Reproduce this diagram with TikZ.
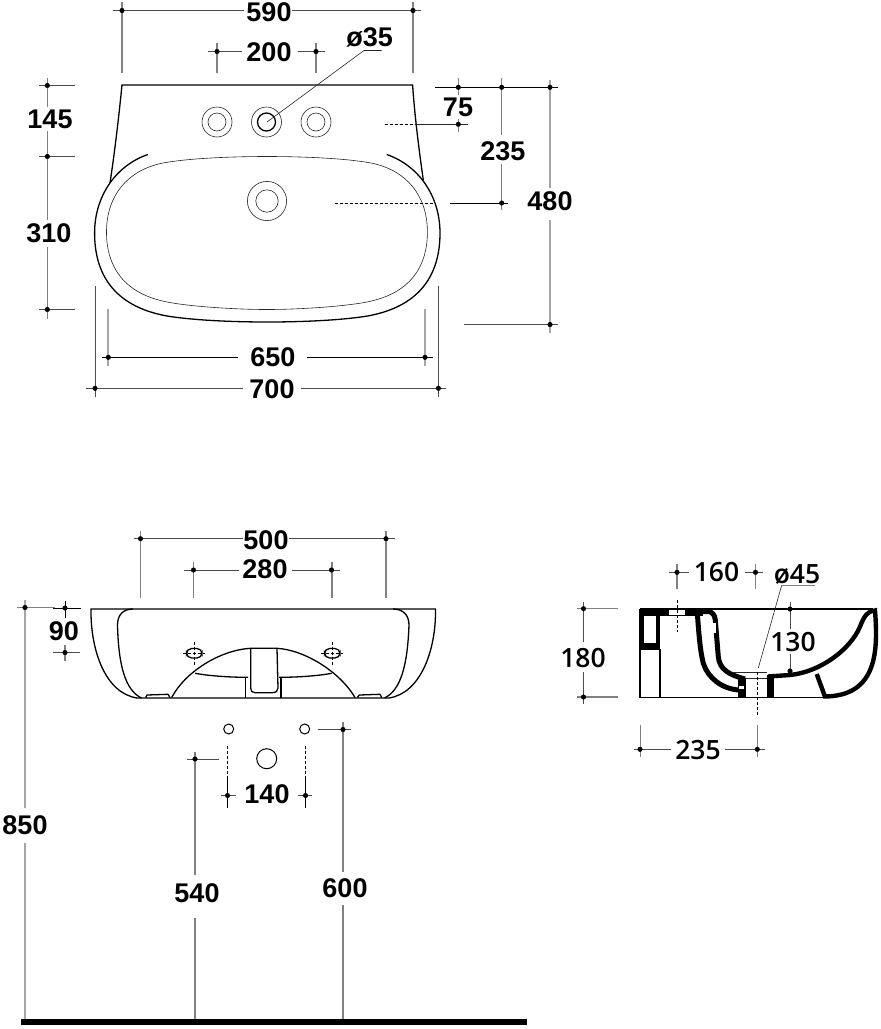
\documentclass[tikz,border=0pt]{standalone}
\usepackage{fontspec}
\setmainfont{Liberation Sans}
\newfontfamily\sidefont{Open Sans Semibold}
\usetikzlibrary{shapes,backgrounds}

\tikzset{
	dimtext/.style={font=\fontsize{27}{27}\bfseries\selectfont, inner sep=0pt},
	sidetext/.style={font=\fontsize{26.5}{27}\sidefont, inner sep=0pt},
	dimline/.style={black!70, line width=0.9pt},
	extline/.style={black!50, line width=1.1pt},
	extthick/.style={black!35, line width=1.6pt},
	dashline/.style={black, line width=0.8pt, dash pattern=on 3pt off 2pt},
	outline/.style={black, line width=1.3pt},
	thinline/.style={black!85, line width=0.6pt},
	wallline/.style={black, line width=5pt}
}

\begin{document}
\begin{tikzpicture}[x=1pt, y=-1pt]

	\useasboundingbox (0, 0) rectangle (881, 1029);

	\draw[outline] (110, 183) .. controls (115, 150) and (119, 115) .. (122, 85) -- (412.6, 85) .. controls (414.6, 115) and (419, 150) .. (423.3, 180);
	\draw[outline] (147.9, 154.5) .. controls (117, 165) and (94.6, 195) .. (94.6, 233) .. controls (94.6, 272) and (112, 306) .. (167, 316) .. controls (195, 320.5) and (235, 322) .. (267.3, 322) .. controls (299.6, 322) and (339.6, 320.5) .. (367.6, 316) .. controls (422.6, 306) and (440, 272) .. (440, 233) .. controls (440, 195) and (417.6, 165) .. (386.7, 154.5);
	\draw[thinline] (267, 156.5) .. controls (235, 156.5) and (190, 158) .. (163, 163) .. controls (128, 170) and (106.5, 195) .. (106.5, 232) .. controls (106.5, 265) and (122, 293) .. (167, 302) .. controls (190, 306.5) and (235, 309.5) .. (267, 309.5) .. controls (299, 309.5) and (344, 306.5) .. (367, 302) .. controls (412, 293) and (427.4, 265) .. (427.4, 232) .. controls (427.4, 195) and (406, 170) .. (371, 163) .. controls (344, 158) and (299, 156.5) .. (267, 156.5);

	\foreach \holex in {217, 266.5, 316} {
		\draw[thinline] (\holex, 122) circle (15pt);
	}
	\draw[thinline] (217, 122) circle (9pt);
	\draw[outline] (266.5, 122) circle (9pt);
	\draw[thinline] (316, 122) circle (9pt);
	\draw[thinline] (267, 201) circle (19.6pt);
	\draw[thinline] (267, 201) circle (11.2pt);

	\draw[extline] (122, 2) -- (122, 73);
	\draw[extline] (413, 2) -- (413, 73);
	\draw[dimline] (112.8, 10.5) -- (244, 10.5);
	\draw[dimline] (292, 10.5) -- (421.4, 10.5);
	\filldraw[black] (122, 10.5) circle (2.3pt);
	\filldraw[black] (413, 10.5) circle (2.3pt);
	\node[dimtext] (top590) at (269, 12) {590};

	\draw[extline] (217, 43) -- (217, 73);
	\draw[extline] (316, 43) -- (316, 73);
	\draw[dimline] (207.8, 51.5) -- (242, 51.5);
	\draw[dimline] (297.6, 51.5) -- (324.6, 51.5);
	\filldraw[black] (217, 51.5) circle (2.3pt);
	\filldraw[black] (316, 51.5) circle (2.3pt);
	\node[dimtext] (top200) at (269, 52) {200};

	\draw[thinline] (381.5, 50.5) -- (364, 50.5) -- (267, 122);
	\node[dimtext] (top35) at (369.7, 37) {ø35};

	\draw[extline] (47.3, 78) -- (47.3, 107);
	\draw[extline] (47.3, 131) -- (47.3, 220);
	\draw[extline] (47.3, 247) -- (47.3, 319);
	\draw[dimline] (38.8, 85.5) -- (75, 85.5);
	\draw[dimline] (38.8, 156.5) -- (75, 156.5);
	\draw[dimline] (38.8, 309.5) -- (75, 309.5);
	\filldraw[black] (47.3, 85.5) circle (2.3pt);
	\filldraw[black] (47.3, 156.5) circle (2.3pt);
	\filldraw[black] (47.3, 309.5) circle (2.3pt);
	\node[dimtext] (top145) at (50, 119.5) {145};
	\node[dimtext] (top310) at (49, 233) {310};

	\draw[black, line width=0.9pt] (434.8, 87.3) -- (558, 87.3);
	\draw[extline] (458.3, 78) -- (458.3, 95);
	\draw[extline] (458.3, 119) -- (458.3, 132);
	\draw[dashline] (384.5, 124.3) -- (415.9, 124.3);
	\draw[thinline] (415.9, 124.3) -- (467.7, 124.3);
	\filldraw[black] (458.3, 87.3) circle (2.3pt);
	\filldraw[black] (458.3, 124.3) circle (2.3pt);
	\node[dimtext] (top75) at (458, 107.3) {75};

	\draw[extline] (501.7, 78) -- (501.7, 135);
	\draw[extline] (501.7, 164) -- (501.7, 210);
	\draw[dashline] (334.6, 203) -- (436, 203);
	\draw[black, line width=0.9pt] (450, 203) -- (508.3, 203);
	\filldraw[black] (501.7, 87.3) circle (2.3pt);
	\filldraw[black] (501.7, 203) circle (2.3pt);
	\node[dimtext] (top235) at (502.8, 151.5) {235};

	\draw[extthick] (550, 80) -- (550, 188);
	\draw[extthick] (550, 220) -- (550, 333);
	\draw[dimline] (464, 324.5) -- (558, 324.5);
	\filldraw[black] (550, 87.3) circle (2.3pt);
	\filldraw[black] (550, 324.5) circle (2.3pt);
	\node[dimtext] (top480) at (550, 201.5) {480};

	\draw[extthick] (108, 309) -- (108, 366);
	\draw[extthick] (425, 309) -- (425, 366);
	\draw[black, line width=0.9pt] (101.7, 357.3) -- (238.4, 357.3);
	\draw[black, line width=0.9pt] (306.8, 357.3) -- (433.3, 357.3);
	\filldraw[black] (108.3, 357.3) circle (2.3pt);
	\filldraw[black] (425, 357.3) circle (2.3pt);
	\node[dimtext] (top650) at (272.8, 357.5) {650};

	\draw[dimline] (95, 286) -- (95, 397);
	\draw[dimline] (438.4, 286) -- (438.4, 397);
	\draw[dimline] (85.8, 388.3) -- (243, 388.3);
	\draw[dimline] (301.3, 388.3) -- (445.5, 388.3);
	\filldraw[black] (95, 388.3) circle (2.3pt);
	\filldraw[black] (438.4, 388.3) circle (2.3pt);
	\node[dimtext] (top700) at (272, 389.5) {700};

	\draw[outline] (137, 698) .. controls (105, 693) and (91, 650) .. (91, 612) -- (91, 609) -- (435.5, 609) -- (435.5, 612) .. controls (435.5, 650) and (421, 693) .. (389, 698) -- cycle;
	\draw[outline] (141.5, 698) .. controls (125, 690) and (118.5, 665) .. (117.5, 625) .. controls (117.5, 615) and (123, 609) .. (133, 609);
	\draw[outline] (384.5, 698) .. controls (401, 690) and (407.5, 665) .. (409, 625) .. controls (409, 615) and (403, 609) .. (393, 609);
	\draw[outline] (171.7, 697.5) .. controls (185, 672) and (220, 650) .. (250.7, 648.3) -- (277, 648.3) .. controls (305, 650) and (340, 672) .. (355, 697.5);
	\draw[outline] (195, 673.3) .. controls (210, 676) and (230, 677.3) .. (248, 677.3);
	\draw[outline] (279, 677.3) .. controls (297, 677.3) and (317, 676) .. (331.7, 673.3);
	\draw[outline] (250.7, 648.3) -- (250.7, 688) .. controls (250.7, 691) and (252, 692.7) .. (255, 692.7) -- (272, 692.7) .. controls (276, 692.7) and (278, 691) .. (278, 688) -- (277, 648.3);
	\draw[outline] (245.7, 697.5) -- (245.7, 677.3);
	\draw[outline] (281, 697.5) -- (281, 677.3);
	\draw[outline] (145.7, 697.5) -- (147, 695) -- (168, 694.3) -- (170, 697.5);
	\draw[outline] (357.3, 697.5) -- (359.3, 695) -- (380, 694.3) -- (381.7, 697.5);
	\draw[outline, rounded corners=5pt] (186.6, 648.5) rectangle (202, 658);
	\draw[outline, rounded corners=5pt] (324.6, 648.5) rectangle (340, 658);
	\foreach \slotx in {194.3, 332.3} {
		\draw[dashline] (\slotx - 11, 653.3) -- (\slotx + 11, 653.3);
		\draw[dashline] (\slotx, 641.7) -- (\slotx, 665);
	}

	\draw[outline, line width=1pt] (228.7, 729) circle (5pt);
	\draw[outline, line width=1pt] (304.7, 729) circle (5pt);
	\draw[outline, line width=1pt] (266.7, 758.7) circle (10pt);

	\draw[extline] (140.5, 531) -- (140.5, 597.5);
	\draw[extline] (386, 531) -- (386, 597.5);
	\draw[dimline] (134, 538.7) -- (243, 538.7);
	\draw[dimline] (289, 538.7) -- (394.5, 538.7);
	\filldraw[black] (140.5, 538.7) circle (2.3pt);
	\filldraw[black] (386, 538.7) circle (2.3pt);
	\node[dimtext] (front500) at (266, 540.5) {500};

	\draw[extline] (193.5, 562) -- (193.5, 597.5);
	\draw[extline] (332, 562) -- (332, 597.5);
	\draw[dimline] (184, 570) -- (239, 570);
	\draw[dimline] (292, 570) -- (340, 570);
	\filldraw[black] (193.5, 570) circle (2.3pt);
	\filldraw[black] (331.5, 570) circle (2.3pt);
	\node[dimtext] (front280) at (265, 569) {280};

	\draw[black, line width=0.9pt] (53, 608) -- (81, 608);
	\draw[black, line width=0.9pt] (65, 601) -- (65, 618);
	\draw[dimline] (53, 652.5) -- (80, 652.5);
	\draw[extline] (65, 645) -- (65, 661);
	\filldraw[black] (65, 608) circle (2.3pt);
	\filldraw[black] (65, 652.5) circle (2.3pt);
	\node[dimtext] (front90) at (64, 631) {90};

	\draw[extthick] (25, 600) -- (25, 808);
	\draw[extthick] (25, 843) -- (25, 1022);
	\draw[extline] (17, 607.5) -- (55, 607.5);
	\filldraw[black] (25, 607.5) circle (2.3pt);
	\node[dimtext] (front850) at (25, 825) {850};

	\draw[dashline] (227.5, 746) -- (227.5, 778);
	\draw[dashline] (305.5, 746) -- (305.5, 778);
	\draw[black, line width=0.9pt] (227.5, 778) -- (227.5, 808);
	\draw[black, line width=0.9pt] (305.5, 778) -- (305.5, 808);
	\draw[dimline] (220.5, 795.5) -- (236, 795.5);
	\draw[dimline] (298, 795.5) -- (312, 795.5);
	\filldraw[black] (227.5, 795.5) circle (2.3pt);
	\filldraw[black] (305.5, 795.5) circle (2.3pt);
	\node[dimtext] (front140) at (267, 794) {140};

	\draw[dimline] (318, 729.5) -- (351, 729.5);
	\draw[extline] (343, 722) -- (343, 872);
	\draw[extline] (343, 905) -- (343, 1022);
	\filldraw[black] (343, 729.5) circle (2.3pt);
	\node[dimtext] (front600) at (345, 888.5) {600};

	\draw[dimline] (187, 759) -- (219, 759);
	\draw[extline] (195, 752) -- (195, 875);
	\draw[extline] (195, 918) -- (195, 1022);
	\filldraw[black] (195, 759) circle (2.3pt);
	\node[dimtext] (front540) at (197, 893) {540};

	\draw[black, line width=6pt] (21, 1022) -- (527, 1022);

	\draw[outline] (640, 609) -- (873, 609);
	\draw[outline] (640, 609) -- (640, 697.7) -- (825, 697.7);
	\draw[outline] (660, 649) -- (660, 697.7);
	\fill[black] (640, 608.5) rectangle (703, 615.5);
	\fill[black] (640, 608.5) rectangle (660, 649.5);
	\fill[white] (644.3, 615.7) rectangle (655.7, 643.3);
	\fill[white] (669, 610) rectangle (685, 614.7);
	\draw[wallline] (697.3, 613) .. controls (699, 635) and (700, 650) .. (703.3, 663.3) .. controls (708, 678) and (722, 689) .. (739, 690);
	\draw[wallline] (702, 611.5) -- (708, 611.5) .. controls (712, 611.5) and (715, 615) .. (715.3, 620) -- (718.3, 656.7) .. controls (719.5, 670) and (730, 675) .. (745, 679);
	\fill[white] (712.7, 623) rectangle (715.7, 633);
	\fill[black] (738.3, 678) rectangle (745.7, 698);
	\fill[white] (739, 686) rectangle (744.3, 688.7);
	\fill[black] (766.7, 675) rectangle (774, 698);
	\draw[thinline] (733.3, 672.5) -- (767, 672.5);
	\draw[thinline] (745, 678.3) -- (767, 678.3);
	\draw[thinline] (766.7, 678.3) -- (769, 675);
	\draw[wallline, line width=4.4pt] (768, 676.5) -- (790, 675) .. controls (820, 672) and (850, 650) .. (860, 626.7) .. controls (864, 616) and (868, 610.5) .. (875, 610.5) .. controls (878, 650) and (878, 697) .. (823, 696.5);
	\draw[wallline, line width=4.4pt] (816.7, 674) -- (825, 696.7);

	\draw[extline] (677, 564) -- (677, 589);
	\draw[dashline] (677, 600) -- (677, 632);
	\draw[extline] (755.5, 564) -- (755.5, 589);
	\draw[dimline] (669, 572.3) -- (689, 572.3);
	\draw[dimline] (745, 572.3) -- (763, 572.3);
	\filldraw[black] (677, 572.3) circle (2.3pt);
	\filldraw[black] (755.5, 572.3) circle (2.3pt);
	\node[sidetext] (side160) at (716.5, 572.5) {160};

	\draw[extline] (815, 585.3) -- (781.7, 585.3);
	\draw[thinline] (781.7, 585.3) -- (758.3, 668);
	\node[sidetext] (side45) at (797, 574) {ø45};

	\draw[dimline] (790, 602) -- (790, 629);
	\draw[dimline] (790, 654) -- (790, 672);
	\filldraw[black] (790, 609) circle (2.3pt);
	\filldraw[black] (790, 671) circle (2.3pt);
	\node[sidetext] (side130) at (793, 642) {130};

	\draw[dimline] (583.5, 602) -- (583.5, 642);
	\draw[dimline] (583.5, 672) -- (583.5, 704);
	\draw[extline] (577, 608.7) -- (618, 608.7);
	\draw[extline] (577, 697) -- (618, 697);
	\filldraw[black] (583.5, 608.7) circle (2.3pt);
	\filldraw[black] (583.5, 697) circle (2.3pt);
	\node[sidetext] (side180) at (583, 658) {180};

	\draw[extline] (640.5, 725) -- (640.5, 757);
	\draw[extline] (757.5, 725) -- (757.5, 757);
	\draw[dimline] (634, 749.3) -- (671, 749.3);
	\draw[dimline] (725, 749.3) -- (765, 749.3);
	\draw[dashline] (757, 672) -- (757, 716);
	\filldraw[black] (640, 749.3) circle (2.3pt);
	\filldraw[black] (757.3, 749.3) circle (2.3pt);
	\node[sidetext] (side235) at (698, 750) {235};

\end{tikzpicture}
\end{document}
